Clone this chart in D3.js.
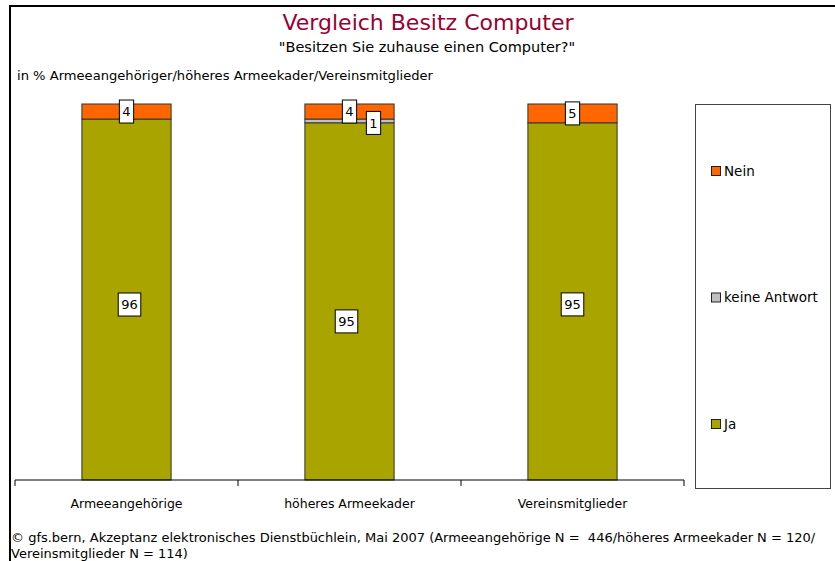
<!DOCTYPE html>
<html>
<head>
<meta charset="utf-8">
<script src="https://cdn.jsdelivr.net/npm/d3@7"></script>
<style>
  body { margin: 0; background: #fff; }
  svg { font-family: "DejaVu Sans", Verdana, sans-serif; }
  text { white-space: pre; }
</style>
</head>
<body>
<div id="plot"></div>
<script>
// data
var categories = ['Armeeangehörige', 'höheres Armeekader', 'Vereinsmitglieder'];
var seriesNames = ['Ja', 'keine Antwort', 'Nein'];
var ja = [96, 95, 95];
var keineAntwort = [0, 1, 0];
var nein = [4, 4, 5];
var seriesColors = ['#aaa400', '#c0c0c0', '#ff6600'];

var W = 835, H = 561;
var margin = {t:104, l:15, r:150, b:81};

var svg = d3.select('#plot').append('svg')
    .attr('width', W)
    .attr('height', H);

// frame
svg.append('path')
    .attr('d', 'M10,' + H + 'V6H' + W)
    .attr('fill', 'none')
    .attr('stroke', '#000')
    .attr('stroke-width', 2);

svg.append('text')
    .attr('x', 428).attr('y', 30)
    .attr('text-anchor', 'middle')
    .style('font-size', '22px')
    .style('fill', '#990033')
    .text('Vergleich Besitz Computer');

svg.append('text')
    .attr('x', 427).attr('y', 52)
    .attr('text-anchor', 'middle')
    .style('font-size', '14.5px')
    .text('"Besitzen Sie zuhause einen Computer?"');

svg.append('text')
    .attr('x', 17).attr('y', 80)
    .style('font-size', '13.1px')
    .text('in % Armeeangehöriger/höheres Armeekader/Vereinsmitglieder');

var x = d3.scaleBand()
    .domain(categories)
    .range([margin.l, 684])
    .paddingInner(0.6)
    .paddingOuter(0.3);

var y = d3.scaleLinear()
    .domain([0, 100])
    .range([480, margin.t]);

var table = categories.map(function(c, i) {
    return {cat: c, 'Ja': ja[i], 'keine Antwort': keineAntwort[i], 'Nein': nein[i]};
});
var stack = d3.stack().keys(seriesNames)(table);

var plot = svg.append('g');

var layers = plot.selectAll('.layer')
    .data(stack)
    .enter()
    .append('g')
    .attr('class', 'layer')
    .attr('fill', function(d, i) { return seriesColors[i]; });

layers.selectAll('rect')
    .data(function(d) { return d.filter(function(p) { return p[1] - p[0] > 0; }); })
    .enter()
    .append('rect')
    .attr('x', function(d) { return x(d.data.cat); })
    .attr('width', x.bandwidth())
    .attr('y', function(d) { return y(d[1]); })
    .attr('height', function(d) { return y(d[0]) - y(d[1]); })
    .attr('stroke', '#333')
    .attr('stroke-width', 1);

// axis
var axisG = svg.append('g').attr('transform', 'translate(0,480)');
axisG.append('line')
    .attr('x1', margin.l).attr('x2', 684)
    .attr('stroke', '#000');
var tickXs = d3.range(categories.length + 1).map(function(i) { return margin.l + i * (684 - margin.l) / categories.length; });
axisG.selectAll('.tick')
    .data(tickXs)
    .enter()
    .append('line')
    .attr('x1', function(d) { return d; })
    .attr('x2', function(d) { return d; })
    .attr('y1', 0).attr('y2', 6)
    .attr('stroke', '#000');
axisG.selectAll('.catlabel')
    .data(categories)
    .enter()
    .append('text')
    .attr('x', function(d) { return x(d) + x.bandwidth() / 2; })
    .attr('y', 28)
    .attr('text-anchor', 'middle')
    .style('font-size', '12.5px')
    .text(function(d) { return d; });

// value labels (nudges for overlaps, like in the original)
var nudge = {
    'Ja|Armeeangehörige': [3, 5],
    'Ja|höheres Armeekader': [-3, 20],
    'Ja|Vereinsmitglieder': [0, 3],
    'keine Antwort|höheres Armeekader': [24, 0]
};
var labelData = [];
stack.forEach(function(s) {
    s.forEach(function(p) {
        if (p[1] - p[0] > 0) labelData.push({key: s.key, cat: p.data.cat, v: p[1] - p[0], y0: p[0], y1: p[1]});
    });
});

var labels = plot.selectAll('.vlabel')
    .data(labelData)
    .enter()
    .append('g')
    .attr('class', 'vlabel')
    .attr('transform', function(d) {
        var n = nudge[d.key + '|' + d.cat] || [0, 0];
        var cy = (y(d.y0) + y(d.y1)) / 2;
        if (d.key == 'keine Antwort') cy = cy + 2;
        return 'translate(' + (x(d.cat) + x.bandwidth() / 2 + n[0]) + ',' + (cy + n[1]) + ')';
    });

labels.append('text')
    .attr('text-anchor', 'middle')
    .attr('dy', '0.36em')
    .style('font-size', '13px')
    .text(function(d) { return d.v; });

labels.each(function() {
    var g = d3.select(this);
    var b = g.select('text').node().getBBox();
    g.insert('rect', 'text')
        .attr('x', b.x - 3)
        .attr('y', -11.5)
        .attr('width', b.width + 6)
        .attr('height', 23)
        .attr('fill', '#fff')
        .attr('stroke', '#000')
        .attr('stroke-width', 1);
});

// legend
svg.append('rect')
    .attr('x', 695.5).attr('y', 104.5)
    .attr('width', 135).attr('height', 384)
    .attr('fill', '#fff')
    .attr('stroke', '#444');

var legendY = d3.scalePoint()
    .domain(seriesNames.slice().reverse())
    .range([171, 424]);

var leg = svg.selectAll('.leg')
    .data(seriesNames)
    .enter()
    .append('g')
    .attr('class', 'leg')
    .attr('transform', function(d) { return 'translate(711,' + legendY(d) + ')'; });
leg.append('rect')
    .attr('x', 0.5).attr('y', -4.5)
    .attr('width', 9).attr('height', 9)
    .attr('fill', function(d, i) { return seriesColors[i]; })
    .attr('stroke', '#222');
leg.append('text')
    .attr('x', 13).attr('dy', '0.36em')
    .style('font-size', '13.5px')
    .text(function(d) { return d; });

// footnote
svg.append('text')
    .attr('x', 11).attr('y', 542)
    .style('font-size', '13px')
    .text('© gfs.bern, Akzeptanz elektronisches Dienstbüchlein, Mai 2007 (Armeeangehörige N =  446/höheres Armeekader N = 120/');
svg.append('text')
    .attr('x', 11).attr('y', 558)
    .style('font-size', '13px')
    .text('Vereinsmitglieder N = 114)');
</script>
</body>
</html>
